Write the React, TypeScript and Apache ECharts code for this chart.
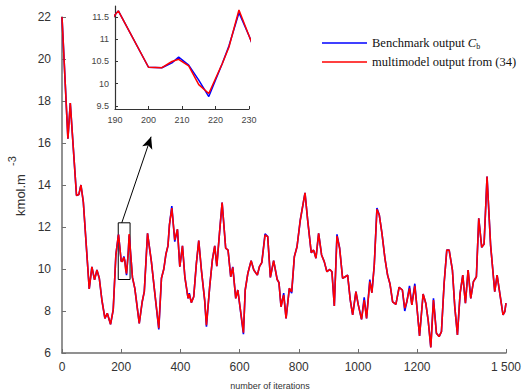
import React, { useEffect, useRef } from "react";
import * as echarts from "echarts";

const iterations = [
  0, 20, 28, 49, 57, 64, 72, 92, 101, 110, 118, 126, 135, 145, 153, 164, 173, 182,
  190, 191, 200, 204, 207, 209, 212, 215, 218, 222, 224, 227, 230, 238, 246, 261, 271,
  278, 289, 302, 313, 327, 336, 344, 351, 358, 363, 371, 381, 390, 398, 407, 415, 426,
  430, 437, 445, 454, 462, 471, 482, 488, 499, 508, 516, 523, 533, 541, 553, 561, 570,
  577, 587, 594, 613, 619, 628, 639, 648, 660, 667, 675, 686, 695, 704, 715, 727, 733,
  740, 749, 757, 768, 776, 785, 794, 805, 821, 830, 842, 850, 858, 867, 877, 886, 895,
  905, 912, 920, 929, 938, 948, 957, 965, 974, 982, 993, 1001, 1012, 1021, 1029, 1040,
  1047, 1055, 1064, 1072, 1081, 1091, 1100, 1108, 1117, 1128, 1139, 1150, 1158, 1165,
  1174, 1182, 1192, 1199, 1208, 1220, 1229, 1237, 1246, 1255, 1265, 1274, 1282, 1291,
  1300, 1308, 1319, 1327, 1336, 1345, 1354, 1363, 1372, 1381, 1390, 1400, 1408, 1418,
  1426, 1436, 1448, 1462, 1470, 1480, 1490, 1496, 1500,
];

const benchmark = [
  22.0, 16.2, 17.9, 13.5, 13.55, 14.0, 13.2, 9.05, 10.1, 9.48, 9.95, 9.56, 8.5, 7.65, 7.89, 7.37, 8.05, 10.67,
  11.55, 11.64, 10.37, 10.36, 10.47, 10.6, 10.42, 10.08, 9.71, 10.45, 10.85, 11.6, 11.08, 9.6, 9.08, 7.41, 8.44,
  8.92, 11.7, 10.35, 8.92, 7.12, 9.56, 10.0, 10.7, 11.1, 12.1, 13.0, 11.3, 11.89, 10.11, 11.1, 9.63, 8.6,
  8.85, 8.4, 8.68, 10.27, 11.35, 9.95, 8.52, 7.25, 9.16, 10.43, 11.1, 10.14, 11.86, 13.16, 10.99, 10.9, 9.63,
  10.1, 8.6, 9.0, 6.9, 9.0, 9.8, 10.4, 9.95, 9.71, 10.11, 10.3, 11.68, 11.54, 9.6, 10.4, 9.5, 9.35,
  8.2, 8.85, 7.65, 9.08, 8.85, 10.59, 11.06, 12.33, 13.63, 12.33, 10.78, 10.9, 10.51, 11.7, 10.67, 10.35, 9.87,
  9.98, 9.87, 8.24, 11.65, 10.99, 9.56, 9.63, 9.71, 8.52, 7.81, 8.92, 8.29, 7.6, 8.65, 7.65, 9.5,
  8.87, 10.19, 12.9, 12.57, 11.7, 10.51, 9.71, 9.3, 8.44, 8.32, 9.13, 9.0, 8.0, 8.44,
  9.2, 8.29, 9.3, 8.2, 6.81, 8.81, 8.37, 7.57, 6.27, 8.6, 6.94, 6.78, 7.02, 9.32,
  10.9, 10.9, 9.95, 8.2, 6.86, 8.84, 9.71, 8.37, 9.95, 8.6, 9.4, 9.63, 12.41, 11.03,
  11.19, 14.4, 11.14, 8.92, 9.71, 8.76, 7.81, 7.97, 8.37,
];

const multimodel = [
  22.0, 16.2, 17.9, 13.5, 13.55, 14.0, 13.2, 9.05, 10.1, 9.48, 9.95, 9.56, 8.5, 7.65, 7.89, 7.37, 8.05, 10.67,
  11.55, 11.64, 10.37, 10.36, 10.5, 10.55, 10.4, 9.98, 9.78, 10.45, 10.82, 11.66, 11.08, 9.6, 9.08, 7.41, 8.44,
  8.92, 11.7, 10.35, 8.92, 7.18, 9.56, 10.0, 10.7, 11.1, 12.1, 12.9, 11.38, 11.89, 10.11, 11.1, 9.63, 8.6,
  8.8, 8.4, 8.68, 10.27, 11.35, 9.95, 8.52, 7.33, 9.16, 10.43, 11.1, 10.14, 11.86, 13.16, 10.99, 10.9, 9.63,
  10.08, 8.6, 9.0, 6.97, 9.0, 9.8, 10.4, 9.95, 9.71, 10.11, 10.3, 11.62, 11.54, 9.6, 10.4, 9.5, 9.35,
  8.2, 8.76, 7.65, 9.08, 8.92, 10.59, 11.06, 12.33, 13.63, 12.33, 10.78, 10.9, 10.51, 11.7, 10.67, 10.35, 9.87,
  9.98, 9.87, 8.24, 11.57, 10.99, 9.56, 9.63, 9.71, 8.52, 7.81, 8.92, 8.29, 7.6, 8.52, 7.65, 9.4,
  8.87, 10.19, 12.84, 12.57, 11.7, 10.51, 9.71, 9.3, 8.44, 8.32, 9.13, 9.0, 8.13, 8.44,
  9.08, 8.29, 9.2, 8.2, 6.81, 8.81, 8.37, 7.57, 6.27, 8.52, 6.94, 6.78, 7.02, 9.32,
  10.9, 10.9, 9.95, 8.2, 6.86, 8.84, 9.71, 8.37, 9.95, 8.6, 9.4, 9.63, 12.41, 11.03,
  11.19, 14.4, 11.14, 8.92, 9.71, 8.76, 7.81, 7.97, 8.37,
];

const xTickValues = [0, 200, 400, 600, 800, 1000, 1200, 1500];
const yTickValues = [6, 8, 10, 12, 14, 16, 18, 20, 22];
const insetXTicks = [190, 200, 210, 220, 230];
const insetYTicks = [9.5, 10, 10.5, 11, 11.5];
const zoomBox = { x0: 190, x1: 230, y0: 9.5, y1: 12.2 };
const arrowFrom = [202, 12.2];
const arrowTo = [301, 16.3];

const BLUE = "#0000ff";
const RED = "#ff0000";
const AXIS = "#6e6e6e";

export default function App() {
  const ref = useRef<HTMLDivElement>(null);
  useEffect(() => {
    if (!ref.current) return;
    const chart = echarts.init(ref.current, undefined, { renderer: "svg" });
    const benchData = iterations.map((x, i) => [x, benchmark[i]]);
    const modelData = iterations.map((x, i) => [x, multimodel[i]]);
    const axisCommon = {
      axisLine: { show: true, lineStyle: { color: AXIS, width: 1.5 } },
      splitLine: { show: false },
    };
    chart.setOption({
      animation: false,
      backgroundColor: "#ffffff",
      grid: [
        { left: 62, right: 16.7, top: 17, bottom: 39 },
        { left: 115, top: 6, width: 134, height: 103, show: false },
      ],
      xAxis: [
        {
          gridIndex: 0,
          type: "value",
          min: 0,
          max: 1500,
          ...axisCommon,
          axisTick: { show: true, inside: true, length: 4, lineStyle: { color: AXIS }, customValues: xTickValues },
          axisLabel: {
            customValues: xTickValues,
            color: "#333",
            fontSize: 12,
            fontFamily: "Liberation Sans, Arial, sans-serif",
            margin: 8,
            formatter: (v: number) => (v === 1500 ? "1 500" : String(v)),
          },
        },
        {
          gridIndex: 1,
          type: "value",
          min: 190,
          max: 230,
          ...axisCommon,
          axisLine: { show: true, lineStyle: { color: "#333", width: 1.2 } },
          axisTick: { show: true, inside: true, length: 3, lineStyle: { color: "#333" }, customValues: insetXTicks },
          axisLabel: {
            customValues: insetXTicks,
            color: "#444",
            fontSize: 9,
            fontFamily: "Liberation Sans, Arial, sans-serif",
            margin: 6,
          },
        },
      ],
      yAxis: [
        {
          gridIndex: 0,
          type: "value",
          min: 6,
          max: 22,
          ...axisCommon,
          axisTick: { show: true, inside: true, length: 4, lineStyle: { color: AXIS }, customValues: yTickValues },
          axisLabel: {
            customValues: yTickValues,
            color: "#333",
            fontSize: 12,
            fontFamily: "Liberation Sans, Arial, sans-serif",
            margin: 11,
          },
        },
        {
          gridIndex: 1,
          type: "value",
          min: 9.43,
          max: 11.75,
          ...axisCommon,
          axisLine: { show: true, lineStyle: { color: "#333", width: 1.2 } },
          axisTick: { show: true, inside: true, length: 3, lineStyle: { color: "#333" }, customValues: insetYTicks },
          axisLabel: {
            customValues: insetYTicks,
            color: "#444",
            fontSize: 9,
            fontFamily: "Liberation Sans, Arial, sans-serif",
            margin: 6,
          },
        },
      ],
      legend: {
        orient: "vertical",
        left: 317,
        top: 31,
        itemWidth: 45,
        itemHeight: 1.6,
        itemGap: 5,
        icon: "rect",
        data: ["bench", "model"],
        formatter: (name: string) =>
          name === "bench" ? "Benchmark output {i|C}{s|b}" : "multimodel output from (34)",
        textStyle: {
          color: "#111",
          fontSize: 12.5,
          lineHeight: 14,
          fontFamily: "Liberation Serif, DejaVu Serif, serif",
          rich: {
            i: { fontStyle: "italic", fontSize: 12.5, lineHeight: 14, fontFamily: "Liberation Serif, serif", color: "#111" },
            s: { fontSize: 8, lineHeight: 8, verticalAlign: "bottom", fontFamily: "Liberation Serif, serif", color: "#111" },
          },
        },
      },
      series: [
        {
          name: "bench",
          type: "line",
          xAxisIndex: 0,
          yAxisIndex: 0,
          data: benchData,
          symbol: "none",
          lineStyle: { color: BLUE, width: 1.6 },
          itemStyle: { color: BLUE },
          z: 2,
        },
        {
          name: "model",
          type: "line",
          xAxisIndex: 0,
          yAxisIndex: 0,
          data: modelData,
          symbol: "none",
          lineStyle: { color: RED, width: 1.6 },
          itemStyle: { color: RED },
          z: 3,
          markArea: {
            silent: true,
            itemStyle: { color: "rgba(0,0,0,0)", borderColor: "#000", borderWidth: 1 },
            data: [[{ coord: [zoomBox.x0, zoomBox.y0] }, { coord: [zoomBox.x1, zoomBox.y1] }]],
          },
          markLine: {
            silent: true,
            symbol: ["none", "arrow"],
            symbolSize: [8, 12],
            label: { show: false },
            lineStyle: { color: "#000", width: 1, type: "solid" },
            data: [[{ coord: arrowFrom }, { coord: arrowTo }]],
          },
        },
        {
          name: "bench",
          type: "line",
          xAxisIndex: 1,
          yAxisIndex: 1,
          data: benchData,
          symbol: "none",
          clip: true,
          lineStyle: { color: BLUE, width: 1.5 },
          itemStyle: { color: BLUE },
          z: 2,
        },
        {
          name: "model",
          type: "line",
          xAxisIndex: 1,
          yAxisIndex: 1,
          data: modelData,
          symbol: "none",
          clip: true,
          lineStyle: { color: RED, width: 1.5 },
          itemStyle: { color: RED },
          z: 3,
        },
      ],
      graphic: [
        {
          type: "text",
          x: 270,
          y: 386,
          style: {
            text: "number of iterations",
            fontSize: 9,
            fontFamily: "Liberation Sans, Arial, sans-serif",
            fill: "#333",
            align: "center",
            verticalAlign: "middle",
          },
        },
        {
          type: "text",
          x: 20,
          y: 195,
          rotation: Math.PI / 2,
          style: {
            text: "kmol.m",
            fontSize: 13,
            fontFamily: "Liberation Sans, Arial, sans-serif",
            fill: "#333",
            align: "center",
            verticalAlign: "middle",
          },
        },
        {
          type: "text",
          x: 12,
          y: 161,
          rotation: Math.PI / 2,
          style: {
            text: "-3",
            fontSize: 11,
            fontFamily: "Liberation Sans, Arial, sans-serif",
            fill: "#333",
            align: "center",
            verticalAlign: "middle",
          },
        },
      ],
    });
    return () => chart.dispose();
  }, []);
  return (
    <div
      ref={ref}
      style={{ position: "absolute", left: 0, top: 0, width: 524, height: 392 }}
    />
  );
}
